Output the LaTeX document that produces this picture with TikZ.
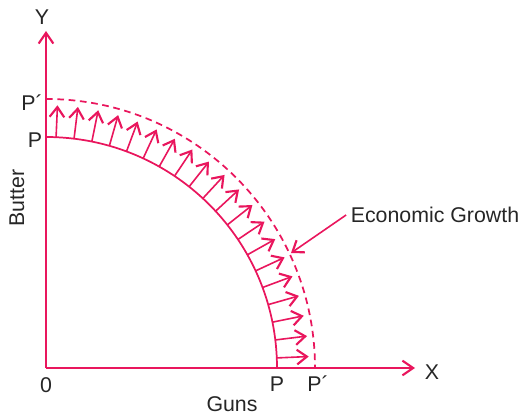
\documentclass[tikz,border=0pt]{standalone}
\usepackage{fontspec}
\setmainfont{Liberation Sans}
\usetikzlibrary{arrows.meta,positioning}
\definecolor{growthred}{RGB}{233,22,93}

\begin{document}
\begin{tikzpicture}[x=0.75pt, y=0.75pt,
  every node/.style={font=\fontsize{16}{19}\selectfont, text=black!85},
  axis/.style={-{Straight Barb[length=8pt,width=11pt,line width=1.6pt]}, line width=1.5pt, draw=growthred},
  growarrow/.style={-{Straight Barb[length=7.5pt,width=11pt,line width=1.6pt]}, line width=1.2pt, draw=growthred},
  ppc/.style={line width=1.3pt, draw=growthred},
  newppc/.style={line width=1.3pt, draw=growthred, dash pattern=on 5pt off 3.5pt}
]
  \useasboundingbox (-46,-46) rectangle (477,368);

  \coordinate (O) at (0,0);
  \coordinate (ytip) at (0,337);
  \coordinate (xtip) at (369,0);
  \coordinate (hit) at (245,115);

  \node (ylab)   at (-4,351)   {Y};
  \node (xlab)   at (386,-4)   {X};
  \node (zero)   at (0,-17)    {0};
  \node (pin)    at (231,-16)  {P};
  \node (pout)   at (272,-16)  {P´};
  \node (pyin)   at (-11,228)  {P};
  \node (pyout)  at (-14,265)  {P´};
  \node (guns)   at (186,-36)  {Guns};
  \node[rotate=90] (butter) at (-29,170) {Butter};
  \node (growth) at (389,153)  {Economic Growth};

  \draw[ppc] (0,231) arc[start angle=90, end angle=0, radius=231];
  \draw[newppc] (0,269) arc[start angle=90, end angle=0, radius=269];

  \foreach \i in {0,...,19}{
    \pgfmathsetmacro\ang{2.5+\i*85/19}
    \draw[growarrow] (\ang:231) -- (\ang:263);
  }

  \draw[axis] (O) -- (ytip);
  \draw[axis] (O) -- (xtip);
  \draw[growarrow] (growth.west) -- (hit);
\end{tikzpicture}
\end{document}
